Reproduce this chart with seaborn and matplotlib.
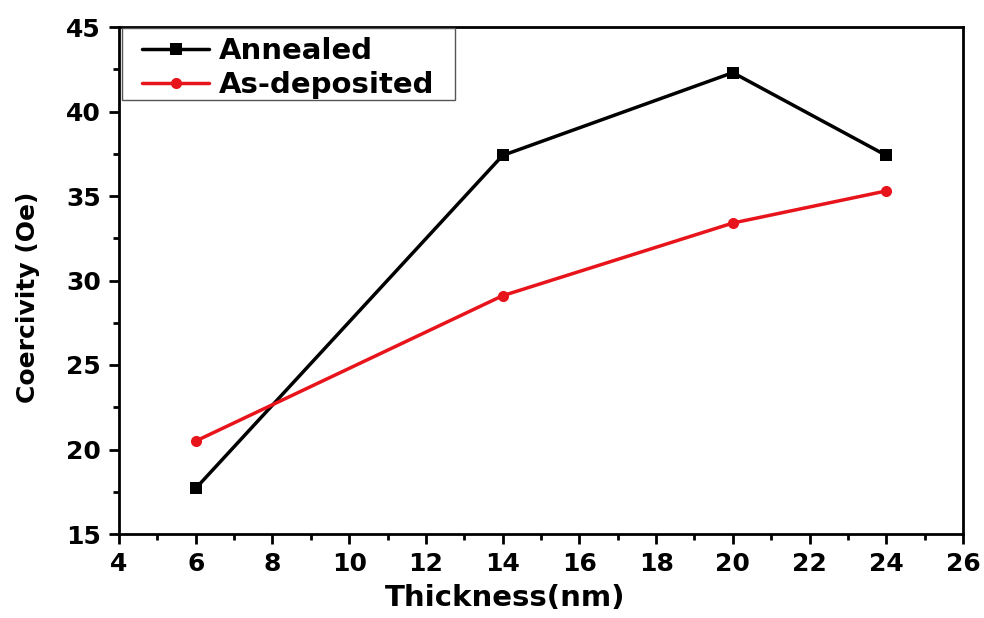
import matplotlib
matplotlib.use("Agg")
import matplotlib.pyplot as plt
import seaborn as sns
import pandas as pd
from matplotlib.ticker import MultipleLocator
from matplotlib.patches import Rectangle

thickness = [6, 14, 20, 24]
annealed = [17.7, 37.4, 42.3, 37.4]
as_deposited = [20.5, 29.1, 33.4, 35.3]

sns.set_theme(style="white")
plt.rcParams['font.family'] = ['DejaVu Sans']
plt.rcParams['font.weight'] = 'bold'
plt.rcParams['text.color'] = 'black'
plt.rcParams['axes.labelcolor'] = 'black'
plt.rcParams['xtick.color'] = 'black'
plt.rcParams['ytick.color'] = 'black'

df = pd.DataFrame({
    "Thickness": thickness * 2,
    "Coercivity": annealed + as_deposited,
    "Sample": ["Annealed"] * 4 + ["As-deposited"] * 4,
})

W, H = 984, 618
L, R, T, B = 119, 963, 27, 534
fig = plt.figure(figsize=(W / 100, H / 100), dpi=100)
ax = fig.add_axes([L / W, 1 - B / H, (R - L) / W, (B - T) / H])

def ax_x(px):
    return (px - L) / (R - L)

def ax_y(py):
    return (B - py) / (B - T)

sns.lineplot(data=df, x="Thickness", y="Coercivity", hue="Sample", style="Sample",
             palette={"Annealed": "black", "As-deposited": "#e8141b"},
             markers={"Annealed": "s", "As-deposited": "o"}, dashes=False,
             markersize=8, linewidth=2.5, markeredgewidth=0, ax=ax)

ax.set_xlim(4, 26)
ax.set_ylim(15, 45)
ax.xaxis.set_major_locator(MultipleLocator(2))
ax.xaxis.set_minor_locator(MultipleLocator(1))
ax.yaxis.set_major_locator(MultipleLocator(5))
ax.yaxis.set_minor_locator(MultipleLocator(2.5))
ax.tick_params(axis='both', which='major', direction='out', length=7, width=2,
               labelsize=18, bottom=True, left=True, top=False, right=False,
               color='black', labelcolor='black', pad=6)
ax.tick_params(axis='both', which='minor', direction='out', length=4, width=2,
               bottom=True, left=True, top=False, right=False, color='black')
for lab in ax.get_xticklabels() + ax.get_yticklabels():
    lab.set_fontweight('bold')
for s in ax.spines.values():
    s.set_color('black')
    s.set_linewidth(2)

ax.set_xlabel("Thickness(nm)", fontsize=21, fontweight='bold', color='black')
ax.set_ylabel("Coercivity (Oe)", fontsize=18, fontweight='bold', color='black')
ax.xaxis.set_label_coords(ax_x(505), ax_y(584))
ax.yaxis.set_label_coords(ax_x(40), ax_y(297))

leg = ax.legend(loc='upper left', bbox_to_anchor=(ax_x(142), ax_y(37)),
                fontsize=21, frameon=False, borderaxespad=0, borderpad=0,
                handlelength=2.3, handletextpad=0.35, labelspacing=0.2)
for t in leg.get_texts():
    t.set_fontweight('bold')
    t.set_color('black')

ax.add_patch(Rectangle((ax_x(122), ax_y(100)), ax_x(455) - ax_x(122), ax_y(28) - ax_y(100),
                       transform=ax.transAxes, fill=False, edgecolor='#555555',
                       linewidth=1, clip_on=False, zorder=5))

fig.savefig("out.png", dpi=100)
